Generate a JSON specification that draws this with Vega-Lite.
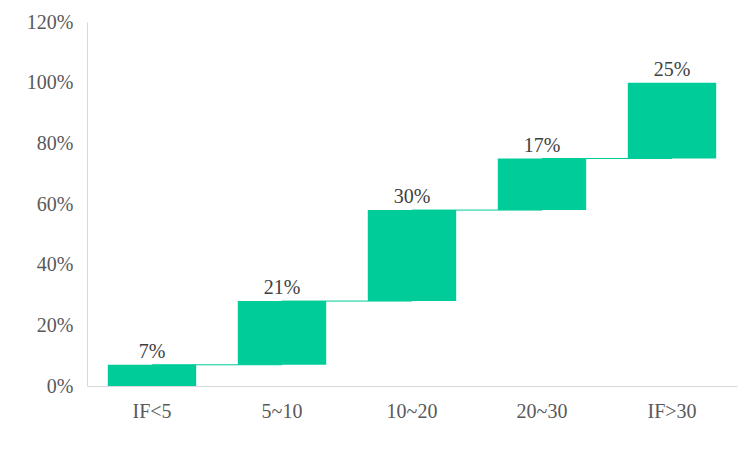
{
  "$schema": "https://vega.github.io/schema/vega-lite/v6.json",
  "width": 650,
  "height": 364,
  "autosize": {"type": "none"},
  "padding": {"left": 87, "top": 22, "right": 14, "bottom": 65},
  "background": "white",
  "config": {
    "view": {"stroke": null},
    "font": "Liberation Serif",
    "axis": {"labelFont": "Liberation Serif", "labelFontSize": 20, "labelColor": "#595959", "domainColor": "#d9d9d9", "domainWidth": 1, "ticks": false, "grid": false, "title": null}
  },
  "data": {
    "values": [
      {"cat": "IF<5", "start": 0, "end": 0.07, "label": "7%", "next": "5~10"},
      {"cat": "5~10", "start": 0.07, "end": 0.28, "label": "21%", "next": "10~20"},
      {"cat": "10~20", "start": 0.28, "end": 0.58, "label": "30%", "next": "20~30"},
      {"cat": "20~30", "start": 0.58, "end": 0.75, "label": "17%", "next": "IF>30"},
      {"cat": "IF>30", "start": 0.75, "end": 1.0, "label": "25%", "next": null}
    ]
  },
  "encoding": {
    "x": {"field": "cat", "type": "nominal", "sort": null,
      "scale": {"paddingInner": 0.32, "paddingOuter": 0.16},
      "axis": {"labelAngle": 0, "labelPadding": 15}}
  },
  "layer": [
    {
      "transform": [{"filter": "datum.next != null"}],
      "mark": {"type": "rule", "color": "#00CC99", "strokeWidth": 1},
      "encoding": {
        "x2": {"field": "next"},
        "y": {"field": "end", "type": "quantitative"}
      }
    },
    {
      "mark": {"type": "bar", "color": "#00CC99"},
      "encoding": {
        "y": {"field": "start", "type": "quantitative",
          "scale": {"domain": [0, 1.2], "nice": false},
          "axis": {"format": ".0%", "values": [0, 0.2, 0.4, 0.6, 0.8, 1.0, 1.2], "labelPadding": 14}},
        "y2": {"field": "end"}
      }
    },
    {
      "mark": {"type": "text", "baseline": "bottom", "dy": -3, "fontSize": 20, "color": "#404040", "font": "Liberation Serif"},
      "encoding": {
        "y": {"field": "end", "type": "quantitative"},
        "text": {"field": "label"}
      }
    }
  ]
}
